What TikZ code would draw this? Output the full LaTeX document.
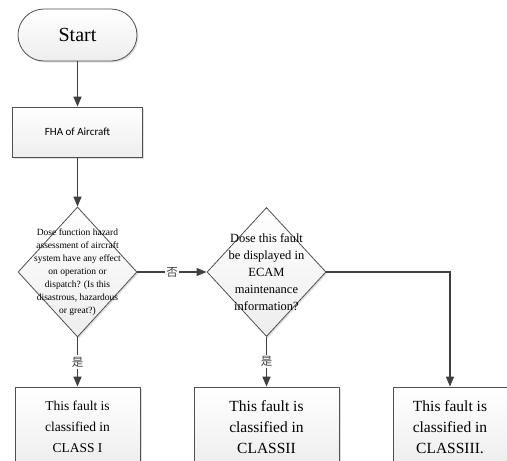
\documentclass[tikz,border=0pt]{standalone}
\usepackage{fontspec}
\setmainfont{Liberation Serif}
\newfontfamily\hdfont{Carlito}
\newfontfamily\cjkfont{Noto Sans CJK SC}
\usetikzlibrary{shapes.geometric,arrows.meta,shadows}
\definecolor{linegray}{HTML}{404040}
\definecolor{edgegray}{HTML}{505050}
\tikzset{
 flowbox/.style={draw=edgegray,line width=.8pt,top color=white,bottom color=gray!14,
  drop shadow={shadow xshift=1.5pt,shadow yshift=-1.5pt,opacity=.25},inner sep=0pt},
 decide/.style={flowbox,diamond,aspect=1},
 flowarrow/.style={draw=linegray,line width=1.2pt,-{Triangle[width=8pt,length=10pt]}},
 answer/.style={fill=white,inner sep=1.5pt,text=linegray,font=\cjkfont\fontsize{11.5}{12}\selectfont}
}
\begin{document}
\begin{tikzpicture}[x=1pt,y=-1pt]
\useasboundingbox (0,0) rectangle (507,461);
\clip (0,0) rectangle (507,461);
\node[flowbox,rounded corners=26pt,minimum width=119pt,minimum height=52pt,font=\fontsize{20}{22}\selectfont] (start) at (77.5,35) {Start};
\node[flowbox,minimum width=130pt,minimum height=50pt,font=\hdfont\fontsize{11}{13}\selectfont] (fha) at (77.5,132) {FHA of Aircraft};
\node[decide,minimum width=119pt,minimum height=130pt] (d1) at (77.5,272) {};
\node[align=center,inner sep=0pt,font=\fontsize{9.5}{13}\selectfont] (d1t) at (d1) {Dose function hazard\\assessment of aircraft\\system have any effect\\on operation or\\dispatch? (Is this\\disastrous, hazardous\\or great?)};
\node[decide,minimum width=119pt,minimum height=129pt] (d2) at (266.5,272) {};
\node[align=center,inner sep=0pt,font=\fontsize{12.5}{17}\selectfont] (d2t) at (d2) {Dose this fault\\be displayed in\\ECAM\\maintenance\\information?};
\foreach \n/\x/\w/\s/\lab in {c1/77.5/125/13.5/CLASS I,c2/266.5/145/15.5/CLASSII,c3/450/114/15.5/CLASSIII.}{
 \node[flowbox,minimum width=\w pt,minimum height=80pt,align=center,font=\fontsize{\s}{21}\selectfont] (\n) at (\x,427) {This fault is\\classified in\\\lab};
}
\draw[flowarrow] (start) -- (fha);
\draw[flowarrow] (fha) -- (d1);
\draw[flowarrow] (d1) -- node[answer] (no1) {否} (d2);
\draw[flowarrow] (d1) -- node[answer] (yes1) {是} (c1);
\draw[flowarrow] (d2) -- node[answer] (yes2) {是} (c2);
\draw[flowarrow] (d2.east) -| (c3.north);
\end{tikzpicture}
\end{document}
